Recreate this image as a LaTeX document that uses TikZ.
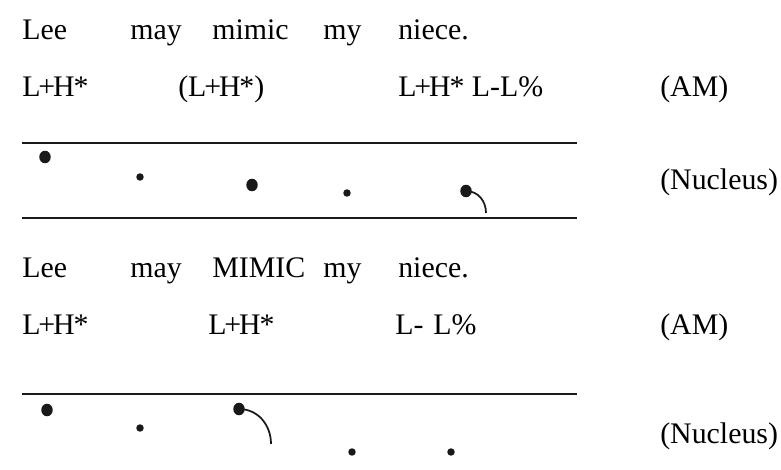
\documentclass[tikz,border=0pt]{standalone}
\usepackage{fontspec}
\setmainfont{Liberation Serif}
\usetikzlibrary{shapes.geometric}
% pitch accent label, set a little tighter around the plus sign
\newcommand\pitchLH{L\kern-.07em+\kern-.07em H\kern-.04em*}
\begin{document}
\begin{tikzpicture}[x=0.75pt,y=-0.75pt,
  word/.style={anchor=base west,inner sep=0pt,font=\fontsize{22.4}{26}\selectfont},
  bigdot/.style={ellipse,fill=black!90,inner sep=0pt,minimum width=8.6pt,minimum height=9.4pt},
  smalldot/.style={circle,fill=black!90,inner sep=0pt,minimum size=5.6pt},
  tier/.style={line width=1.8pt,black!90},
  tail/.style={line width=1.3pt,black!90}]
\useasboundingbox (0,0) rectangle (781,470);

% first sentence, nuclear accent on "niece"
\node[word] (w1a) at (22,40) {Lee};
\node[word] (w1b) at (130,40) {may};
\node[word] (w1c) at (212,40) {mimic};
\node[word] (w1d) at (323,40) {my};
\node[word] (w1e) at (398,40) {niece.};

\node[word] (t1a) at (22,97) {\pitchLH};
\node[word] (t1b) at (178,97) {(\pitchLH)};
\node[word] (t1c) at (398,97) {\pitchLH{} L-L\%};
\node[word] (am1) at (660,97) {(AM)};

\coordinate (r1l) at (22,143);  \coordinate (r1r) at (577,143);
\coordinate (r2l) at (22,218);  \coordinate (r2r) at (577,218);
\draw[tier] (r1l) -- (r1r);
\draw[tier] (r2l) -- (r2r);

\node[bigdot]   (d1a) at (45,157) {};
\node[smalldot] (d1b) at (140,177) {};
\node[bigdot]   (d1c) at (252,185) {};
\node[smalldot] (d1d) at (347,193) {};
\node[bigdot]   (d1e) at (466,191) {};
\coordinate (f1) at (486,213);
\draw[tail] (d1e.center) .. controls (478,191) and (486,201) .. (f1);

\node[word] (n1) at (660,190) {(Nucleus)};

% second sentence, nuclear accent on "MIMIC"
\node[word] (w2a) at (22,277) {Lee};
\node[word] (w2b) at (130,277) {may};
\node[word] (w2c) at (212,277) {MIMIC};
\node[word] (w2d) at (323,277) {my};
\node[word] (w2e) at (398,277) {niece.};

\node[word] (t2a) at (22,334) {\pitchLH};
\node[word] (t2b) at (208,334) {\pitchLH};
\node[word] (t2c) at (395,334) {L-};
\node[word] (t2d) at (433,334) {L\%};
\node[word] (am2) at (660,334) {(AM)};

\coordinate (r3l) at (22,394);  \coordinate (r3r) at (577,394);
\draw[tier] (r3l) -- (r3r);

\node[bigdot]   (d2a) at (47,410) {};
\node[smalldot] (d2b) at (140,428) {};
\node[bigdot]   (d2c) at (239,409) {};
\node[smalldot] (d2d) at (352,452) {};
\node[smalldot] (d2e) at (451,452) {};
\coordinate (f2) at (271,444);
\draw[tail] (d2c.center) .. controls (258,409) and (271,425) .. (f2);

\node[word] (n2) at (660,443) {(Nucleus)};
\end{tikzpicture}
\end{document}
